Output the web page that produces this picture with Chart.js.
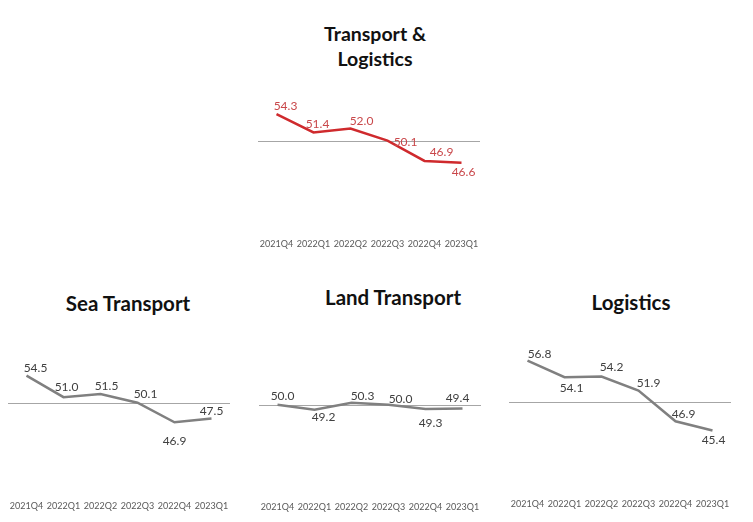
<!DOCTYPE html>
<html>
<head>
<meta charset="utf-8">
<script src="https://cdn.jsdelivr.net/npm/chart.js@4.4.0/dist/chart.umd.min.js"></script>
<style>
  body { margin: 0; background: #fff; width: 753px; height: 522px; position: relative; overflow: hidden; font-family: Lato, "DejaVu Sans", sans-serif; }
  .title { position: absolute; font-weight: bold; color: #111; text-align: center; white-space: nowrap; transform: translate(-50%, -50%); line-height: 25px; }
  .box { position: absolute; }
</style>
</head>
<body>
<div class="title" style="left:375px; top:46px; font-size:19.5px;">Transport &amp;<br>Logistics</div>
<div class="title" style="left:128px; top:303px; font-size:20.5px;">Sea Transport</div>
<div class="title" style="left:393px; top:297px; font-size:20.5px;">Land Transport</div>
<div class="title" style="left:631px; top:302px; font-size:20.5px;">Logistics</div>

<div class="box" style="left:240px; top:73px; width:260px; height:182px;"><canvas id="chartTL"></canvas></div>
<div class="box" style="left:0px; top:335px; width:240px; height:183px;"><canvas id="chartSea"></canvas></div>
<div class="box" style="left:250px; top:336px; width:245px; height:182px;"><canvas id="chartLand"></canvas></div>
<div class="box" style="left:500px; top:334px; width:253px; height:181px;"><canvas id="chartLog"></canvas></div>

<script>
// quarters on the x axis
const quarters = ['2021Q4', '2022Q1', '2022Q2', '2022Q3', '2022Q4', '2023Q1'];

// index values per sector
const transportLogistics = [54.3, 51.4, 52.0, 50.1, 46.9, 46.6];
const seaTransport = [54.5, 51.0, 51.5, 50.1, 46.9, 47.5];
const landTransport = [50.0, 49.2, 50.3, 50.0, 49.3, 49.4];
const logistics = [56.8, 54.1, 54.2, 51.9, 46.9, 45.4];

// the 50 line (expansion / contraction)
const threshold = 50;

// where each value label sits relative to its point (dx, dy in px)
const offsetsTL = [[9, -8], [4, -8], [11, -7], [18, 1], [17, -9], [2, 9]];
const offsetsSea = [[9, -8], [3, -10], [6, -8], [8, -9], [0, 19], [0, -7]];
const offsetsLand = [[5, -9], [9, 8], [11, -7], [12, -6], [5, 14], [-5, -10]];
const offsetsLog = [[12, -6], [7, 11], [10, -9], [10, -8], [8, -7], [1, 10]];

// linha de referencia no 50
const thresholdLine = {
    id: 'thresholdLine',
    beforeDatasetsDraw(chart) {
        const { ctx, chartArea, scales } = chart;
        const y = Math.round(scales.y.getPixelForValue(threshold)) + 0.5;
        ctx.save();
        ctx.strokeStyle = '#a6a6a6';
        ctx.lineWidth = 1;
        ctx.beginPath();
        ctx.moveTo(chartArea.left, y);
        ctx.lineTo(chartArea.right, y);
        ctx.stroke();
        ctx.restore();
    }
};

// rotulos de valor em cada ponto
const valueLabels = {
    id: 'valueLabels',
    afterDatasetsDraw(chart, args, opts) {
        const { ctx } = chart;
        const meta = chart.getDatasetMeta(0);
        const data = chart.data.datasets[0].data;
        ctx.save();
        ctx.font = '12px Lato, "DejaVu Sans", sans-serif';
        ctx.fillStyle = opts.color;
        ctx.textAlign = 'center';
        ctx.textBaseline = 'middle';
        meta.data.forEach((pt, i) => {
            const off = opts.offsets[i] || [0, -8];
            ctx.fillText(data[i].toFixed(1), pt.x + off[0], pt.y + off[1]);
        });
        ctx.restore();
    }
};

function makeChart(id, values, lineColor, labelColor, offsets, padding, tickPad) {
    const ctx = document.getElementById(id).getContext('2d');
    return new Chart(ctx, {
        type: 'line',
        data: {
            labels: quarters,
            datasets: [{
                data: values,
                borderColor: lineColor,
                borderWidth: 2.5,
                pointRadius: 0,
                tension: 0,
                fill: false
            }]
        },
        options: {
            responsive: true,
            maintainAspectRatio: false,
            animation: false,
            layout: { padding: padding },
            plugins: {
                legend: { display: false },
                tooltip: { enabled: false },
                valueLabels: { color: labelColor, offsets: offsets }
            },
            scales: {
                x: {
                    offset: true,
                    grid: { display: false, drawTicks: false },
                    border: { display: false },
                    ticks: {
                        color: '#595959',
                        font: { size: 9, family: 'Lato, "DejaVu Sans", sans-serif' },
                        padding: tickPad,
                        maxRotation: 0,
                        autoSkip: false
                    }
                },
                y: {
                    display: false,
                    min: 35,
                    max: 60
                }
            }
        },
        plugins: [thresholdLine, valueLabels]
    });
}

makeChart('chartTL', transportLogistics, '#cf2a2d', '#c9474a', offsetsTL, { top: 5, left: 18, right: 20, bottom: 4 }, 2);
makeChart('chartSea', seaTransport, '#808080', '#404040', offsetsSea, { top: 7, left: 8, right: 10, bottom: 2 }, 5);
makeChart('chartLand', landTransport, '#808080', '#404040', offsetsLand, { top: 7, left: 9, right: 14, bottom: 2 }, 4);
makeChart('chartLog', logistics, '#808080', '#404040', offsetsLog, { top: 7, left: 9, right: 22, bottom: 2 }, 4);
</script>
</body>
</html>
